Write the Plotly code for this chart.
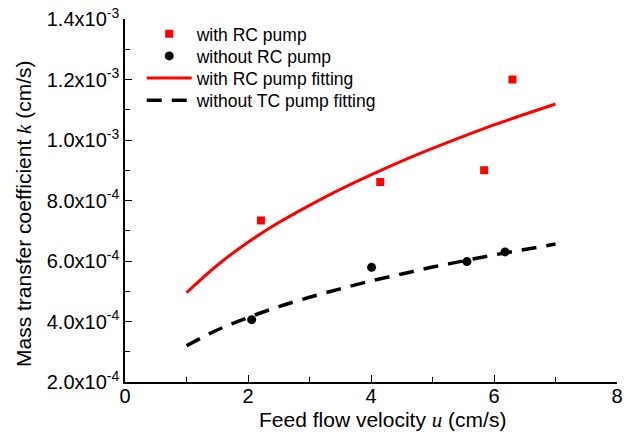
import plotly.graph_objects as go

# measured data
rc_u = [2.21, 4.15, 5.84, 6.30]
rc_k = [7.34e-4, 8.61e-4, 9.00e-4, 1.20e-3]
norc_u = [2.06, 4.01, 5.56, 6.18]
norc_k = [4.06e-4, 5.79e-4, 5.98e-4, 6.30e-4]

# fitted curves
fit_u = [1, 1.5, 2, 2.5, 3, 3.5, 4, 4.5, 5, 5.5, 6, 6.5, 7]
fit_rc_k = [4.95e-4, 5.86e-4, 6.62e-4, 7.27e-4, 7.84e-4, 8.37e-4, 8.85e-4,
            9.30e-4, 9.72e-4, 1.012e-3, 1.050e-3, 1.085e-3, 1.119e-3]
fit_norc_k = [3.20e-4, 3.72e-4, 4.13e-4, 4.49e-4, 4.80e-4, 5.08e-4, 5.34e-4,
              5.57e-4, 5.80e-4, 6.00e-4, 6.20e-4, 6.38e-4, 6.56e-4]

x_ticks = [0, 2, 4, 6, 8]
x_minor = [1, 3, 5, 7]
y_ticks = [2e-4, 4e-4, 6e-4, 8e-4, 1.0e-3, 1.2e-3, 1.4e-3]
y_ticktext = ["2.0x10<sup>-4</sup>", "4.0x10<sup>-4</sup>", "6.0x10<sup>-4</sup>",
              "8.0x10<sup>-4</sup>", "1.0x10<sup>-3</sup>", "1.2x10<sup>-3</sup>",
              "1.4x10<sup>-3</sup>"]
y_minor = [3e-4, 5e-4, 7e-4, 9e-4, 1.1e-3, 1.3e-3]

x_title = "Feed flow velocity <span style=\"font-family:Liberation Serif\"><i>u</i></span> (cm/s)"
y_title = "Mass transfer coefficient <span style=\"font-family:Liberation Serif\"><i>k</i></span> (cm/s)"

FONT = "Liberation Sans"

fig = go.Figure()
fig.add_trace(go.Scatter(x=rc_u, y=rc_k, mode="markers", name="with RC pump", legend="legend",
                         marker=dict(symbol="square", size=8, color="#ff0000")))
fig.add_trace(go.Scatter(x=norc_u, y=norc_k, mode="markers", name="without RC pump", legend="legend2",
                         marker=dict(symbol="circle", size=9, color="#000000")))
fig.add_trace(go.Scatter(x=fit_u, y=fit_rc_k, mode="lines", name="with RC pump fitting", legend="legend3",
                         line=dict(color="#ff0000", width=3, shape="spline")))
fig.add_trace(go.Scatter(x=fit_u, y=fit_norc_k, mode="lines", name="without TC pump fitting", legend="legend4",
                         line=dict(color="#000000", width=3.5, dash="15px,10px", shape="spline")))

axis_common = dict(showline=True, linecolor="black", linewidth=1.5, mirror=False,
                   showgrid=False, zeroline=False, ticks="inside", ticklen=7,
                   tickwidth=1.2, tickcolor="black", automargin=False,
                   tickfont=dict(family=FONT, size=20, color="black"))

fig.update_xaxes(range=[0, 8], tickvals=x_ticks, ticktext=[str(v) for v in x_ticks],
                 ticklabelstandoff=-5,
                 minor=dict(tickvals=x_minor, ticks="inside", ticklen=5, tickwidth=1.2, tickcolor="black"),
                 **axis_common)
fig.update_yaxes(range=[2e-4, 1.4e-3], tickvals=y_ticks, ticktext=y_ticktext,
                 minor=dict(tickvals=y_minor, ticks="inside", ticklen=5, tickwidth=1.2, tickcolor="black"),
                 **axis_common)

fig.add_annotation(text=x_title, xref="paper", yref="paper", x=0.5237, y=-0.106,
                   xanchor="center", yanchor="middle", showarrow=False,
                   font=dict(family=FONT, size=21, color="black"))
fig.add_annotation(text=y_title, xref="paper", yref="paper", x=-0.2054, y=0.4655,
                   xanchor="center", yanchor="middle", showarrow=False, textangle=-90,
                   font=dict(family=FONT, size=21, color="black"))

leg = dict(xanchor="left", yanchor="middle", bgcolor="rgba(0,0,0,0)",
           font=dict(family=FONT, size=17.5, color="black"), itemwidth=45)
fig.update_layout(
    width=628, height=439,
    margin=dict(l=125, r=11, t=19, b=57, autoexpand=False),
    plot_bgcolor="white", paper_bgcolor="white",
    font=dict(family=FONT, size=17, color="black"),
    legend=dict(x=0.034, y=0.959, **leg),
    legend2=dict(x=0.034, y=0.898, **leg),
    legend3=dict(x=0.034, y=0.837, **leg),
    legend4=dict(x=0.034, y=0.776, **leg),
    showlegend=True,
)

fig.write_html("out.html", config={"displayModeBar": False},
               post_script="document.body.style.margin='0';document.body.style.overflow='hidden';")
